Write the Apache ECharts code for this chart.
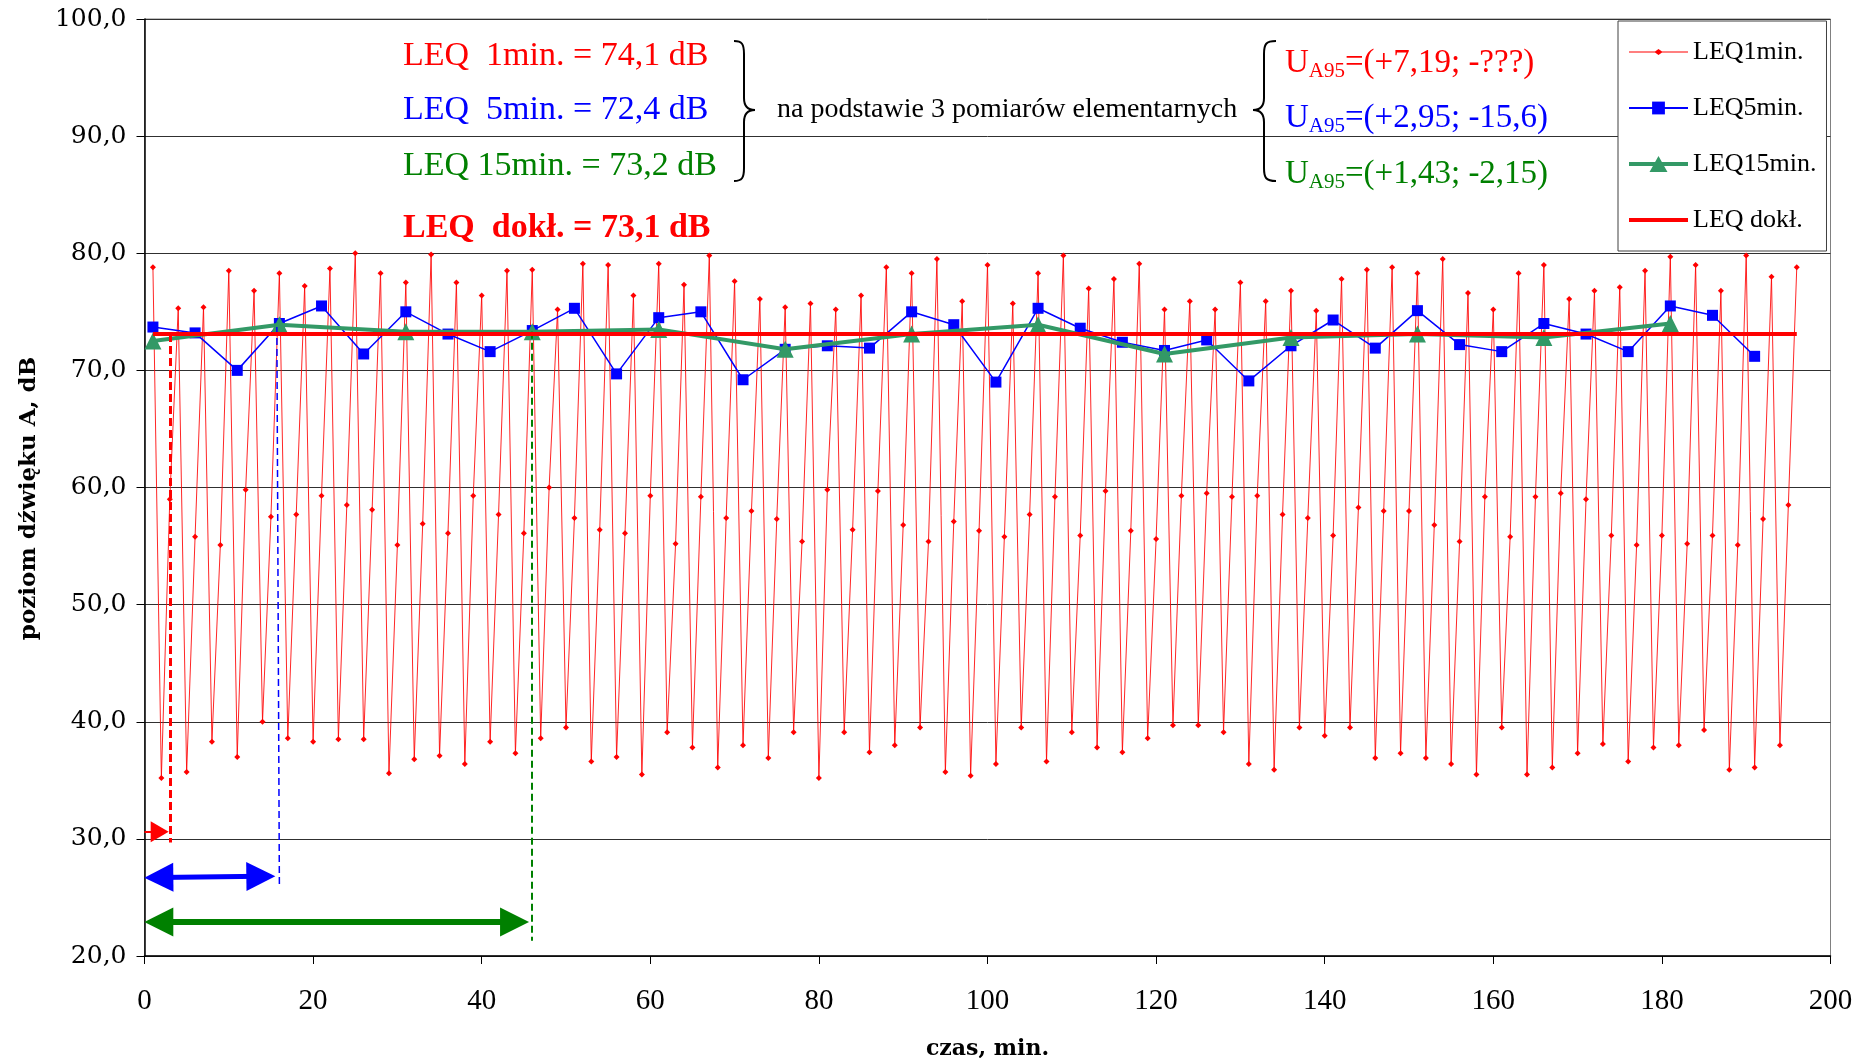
<!DOCTYPE html>
<html>
<head>
<meta charset="utf-8">
<title>LEQ</title>
<script src="https://cdn.jsdelivr.net/npm/echarts@6/dist/echarts.min.js"></script>
<style>
  html, body { margin: 0; padding: 0; background: #fff; }
  #chart { width: 1872px; height: 1058px; }
</style>
</head>
<body>
<div id="chart"></div>
<script>
// LEQ 1 min, one value per minute, minutes 1..196
const LEQ_1MIN = [
  78.8, 35.2, 59.0, 75.3, 35.7, 55.8, 75.4, 38.3, 55.1, 78.5, 37.0, 59.8, 76.8, 40.0, 57.5,
  78.3, 38.6, 57.7, 77.2, 38.3, 59.3, 78.7, 38.5, 58.5, 80.0, 38.5, 58.1, 78.3, 35.6, 55.1,
  77.5, 36.8, 56.9,
  79.9, 37.1, 56.1, 77.5, 36.4, 59.3, 76.4, 38.3, 57.7, 78.5, 37.3, 56.1, 78.6, 38.6, 60.0,
  75.2, 39.5, 57.4, 79.1, 36.6, 56.4, 79.0, 37.0, 56.1, 76.4, 35.5, 59.3, 79.1, 39.1, 55.2,
  77.3, 37.8, 59.2, 79.8,
  36.1, 57.4, 77.6, 38.0, 58.0, 76.1, 36.9, 57.3, 75.4, 39.1, 55.4, 75.7, 35.2, 59.8, 75.2,
  39.1, 56.4, 76.4, 37.4, 59.7, 78.8, 38.0, 56.8, 78.3, 39.5, 55.4, 79.5, 35.7, 57.1, 75.9,
  35.4, 56.3, 79.0,
  36.4, 55.8, 75.7, 39.5, 57.7, 78.3, 36.6, 59.2, 79.8, 39.1, 55.9, 77.0, 37.8, 59.7, 77.8,
  37.4, 56.3, 79.1, 38.6, 55.6, 75.2, 39.7, 59.3, 75.9, 39.7, 59.5, 75.2, 39.1, 59.2, 77.5,
  36.4, 59.3, 75.9,
  35.9, 57.7, 76.8, 39.5, 57.4, 75.1, 38.8, 55.9, 77.8, 39.5, 58.3, 78.6, 36.9, 58.0, 78.8,
  37.3, 58.0, 78.3, 36.9, 56.8, 79.5, 36.4, 55.4, 76.6, 35.5, 59.2, 75.2, 39.5, 55.8, 78.3,
  35.5, 59.2, 79.0,
  36.1, 59.5, 76.1, 37.3, 59.0, 76.8, 38.1, 55.9, 77.1, 36.6, 55.1, 78.5, 37.8, 55.9, 79.7,
  38.0, 55.2, 79.0, 39.3, 55.9, 76.8, 35.9, 55.1, 79.8, 36.1, 57.3, 78.0, 38.0, 58.5, 78.8
];

// LEQ 5 min, minutes 1, 6, 11 ... 191
const LEQ_5MIN = [
  73.7, 73.2, 70.0, 74.0, 75.5, 71.4, 75.0, 73.1, 71.6, 73.4, 75.3, 69.7, 74.5,
  75.0, 69.2, 71.8, 72.1, 71.9, 75.0, 73.9, 69.0, 75.3, 73.6, 72.4, 71.7, 72.6,
  69.1, 72.1, 74.3, 71.9, 75.1, 72.2, 71.6, 74.0, 73.1, 71.6, 75.5, 74.7, 71.2
];

// LEQ 15 min, minutes 1, 16, 31 ... 181
const LEQ_15MIN = [72.5, 73.9, 73.3, 73.3, 73.5, 71.8, 73.1, 73.9, 71.4, 72.8, 73.1, 72.8, 74.0];

const LEQ_DOKL = 73.1;
const DOKL_MINUTES = [1, 196];

const X_MIN = 0, X_MAX = 200, X_STEP = 20;
const Y_MIN = 20, Y_MAX = 100, Y_STEP = 10;

// hand-drawn helpers on the chart (data coordinates)
const RED_DASH = [[3, 73.1], [3, 29.7]];
const RED_ARROW = [[0, 30.6], [1.8, 30.6]];
const BLUE_DASH = [[15.7, 73.7], [16, 26.0]];
const BLUE_ARROW = [[1.7, 26.7], [13.8, 26.8]];
const GREEN_DASH = [[45.9, 73.3], [45.9, 21.3]];
const GREEN_ARROW = [[1.7, 22.9], [43.9, 22.9]];

const SERIF = '"Liberation Serif", "Times New Roman", serif';
const WIDE_SERIF = '"DejaVu Serif", serif';

// legend icons drawn in a 59 x 16 box
const ICON_1MIN = 'path://M0,0 L0.5,0 M0,7.5 L26,7.5 L29.5,5 L33,7.5 L59,7.5 L59,8.5 L33,8.5 L29.5,11 L26,8.5 L0,8.5 Z M0,16 L0.5,16';
const ICON_15MIN = 'path://M0,6 L26.1,6 L29.5,0 L32.9,6 L59,6 L59,10 L35.1,10 L38.5,16 L20.5,16 L23.9,10 L0,10 Z';
const ICON_DOKL = 'path://M0,0 L0.5,0 M0,6 L59,6 L59,10 L0,10 Z M0,16 L0.5,16';

const commaFmt = v => v.toFixed(1).replace('.', ',');

function seg(points, style, endSymbols, size) {
  return [
    { coord: points[0], symbol: endSymbols[0], symbolSize: size, lineStyle: style },
    { coord: points[1], symbol: endSymbols[1], symbolSize: size }
  ];
}

// curly brace made of curves; tip points toward xTip
function brace(xEnd, xBody, xTip, yTop, yMid, yBot) {
  const st = { stroke: '#000', lineWidth: 2, fill: null };
  const d = xEnd < xBody ? 1 : -1;
  const bz = (x1, y1, cx1, cy1, cx2, cy2, x2, y2) => ({
    type: 'bezierCurve', z: 10, silent: true,
    shape: { x1, y1, cpx1: cx1, cpy1: cy1, cpx2: cx2, cpy2: cy2, x2, y2 }, style: st
  });
  const ln = (x1, y1, x2, y2) => ({ type: 'line', z: 10, silent: true, shape: { x1, y1, x2, y2 }, style: st });
  return [
    bz(xEnd, yTop, xBody - 2 * d, yTop, xBody, yTop + 3, xBody, yTop + 13),
    ln(xBody, yTop + 13, xBody, yMid - 12),
    bz(xBody, yMid - 12, xBody, yMid - 4, xBody + 4 * d, yMid, xTip, yMid),
    bz(xTip, yMid, xBody + 4 * d, yMid, xBody, yMid + 4, xBody, yMid + 12),
    ln(xBody, yMid + 12, xBody, yBot - 13),
    bz(xBody, yBot - 13, xBody, yBot - 3, xBody - 2 * d, yBot, xEnd, yBot)
  ];
}

function uText(y, body, color) {
  return {
    type: 'text', x: 1285, y, z: 10,
    style: {
      text: '{u|U}{s|A95}{u|' + body + '}', fill: color, verticalAlign: 'middle',
      rich: {
        u: { fontFamily: SERIF, fontSize: 33, lineHeight: 38, fill: color },
        s: { fontFamily: SERIF, fontSize: 21, lineHeight: 21, verticalAlign: 'bottom', fill: color }
      }
    }
  };
}

function leqText(y, text, color, bold) {
  return {
    type: 'text', x: 403, y, z: 10,
    style: { text, fontFamily: SERIF, fontSize: 34, fontWeight: bold ? 'bold' : 'normal', fill: color, verticalAlign: 'middle' }
  };
}

const chart = echarts.init(document.getElementById('chart'), null, { renderer: 'canvas' });

chart.setOption({
  animation: false,
  backgroundColor: '#fff',
  grid: {
    left: 144.5, right: 41.5, top: 19, bottom: 102,
    show: true, borderColor: '#808080', borderWidth: 1,
    outerBoundsMode: 'none'
  },
  legend: {
    orient: 'vertical',
    left: 1618, top: 21,
    padding: [18, 10, 18, 10],
    itemWidth: 59, itemHeight: 16, itemGap: 30,
    borderColor: '#404040', borderWidth: 1,
    backgroundColor: '#fff',
    textStyle: { fontFamily: SERIF, fontSize: 26, color: '#000' },
    data: [
      { name: 'LEQ1min.', icon: ICON_1MIN },
      'LEQ5min.',
      { name: 'LEQ15min.', icon: ICON_15MIN },
      { name: 'LEQ dokł.', icon: ICON_DOKL }
    ]
  },
  xAxis: {
    type: 'value', min: X_MIN, max: X_MAX, interval: X_STEP,
    name: 'czas, min.', nameLocation: 'middle', nameGap: 82,
    nameTextStyle: { fontFamily: WIDE_SERIF, fontWeight: 'bold', fontSize: 22, color: '#000' },
    axisLine: { lineStyle: { color: '#000', width: 1.5 } },
    axisTick: { show: true, length: 8, lineStyle: { color: '#000' } },
    axisLabel: { fontFamily: SERIF, fontSize: 29, color: '#000', margin: 31 },
    splitLine: { show: false }
  },
  yAxis: {
    type: 'value', min: Y_MIN, max: Y_MAX, interval: Y_STEP,
    name: 'poziom dźwięku A, dB', nameLocation: 'middle', nameRotate: 90, nameGap: 104,
    nameTextStyle: { fontFamily: WIDE_SERIF, fontWeight: 'bold', fontSize: 23, color: '#000', padding: [0, 22, 0, 0] },
    axisLine: { show: true, lineStyle: { color: '#000', width: 1.5 } },
    axisTick: { show: true, length: 8, lineStyle: { color: '#000' } },
    axisLabel: { fontFamily: WIDE_SERIF, fontSize: 25, color: '#000', margin: 18, formatter: commaFmt },
    splitLine: { show: true, lineStyle: { color: '#303030', width: 1 } }
  },
  series: [
    {
      name: 'LEQ1min.', type: 'line', z: 2,
      data: LEQ_1MIN.map((v, i) => [i + 1, v]),
      symbol: 'diamond', symbolSize: 6,
      itemStyle: { color: '#ff0000' },
      lineStyle: { color: 'rgba(255,0,0,0.85)', width: 1 }
    },
    {
      name: 'LEQ5min.', type: 'line', z: 3,
      data: LEQ_5MIN.map((v, i) => [1 + i * 5, v]),
      symbol: 'rect', symbolSize: 11,
      itemStyle: { color: '#0000ff' },
      lineStyle: { color: '#0000ff', width: 1.5 },
      markLine: {
        silent: true, animation: false, label: { show: false },
        data: [
          seg(BLUE_DASH, { color: '#0000ff', width: 1.5, type: [7, 4] }, ['none', 'none'], 0),
          seg(BLUE_ARROW, { color: '#0000ff', width: 5, type: 'solid' }, ['triangle', 'triangle'], [29, 29])
        ]
      }
    },
    {
      name: 'LEQ15min.', type: 'line', z: 4,
      data: LEQ_15MIN.map((v, i) => [1 + i * 15, v]),
      symbol: 'triangle', symbolSize: 17,
      itemStyle: { color: '#339966' },
      lineStyle: { color: '#339966', width: 4 },
      markLine: {
        silent: true, animation: false, label: { show: false },
        data: [
          seg(GREEN_DASH, { color: '#008000', width: 2, type: [7, 4] }, ['none', 'none'], 0),
          seg(GREEN_ARROW, { color: '#008000', width: 6, type: 'solid' }, ['triangle', 'triangle'], [29, 29])
        ]
      }
    },
    {
      name: 'LEQ dokł.', type: 'line', z: 5,
      data: DOKL_MINUTES.map(m => [m, LEQ_DOKL]),
      symbol: 'none',
      itemStyle: { color: '#ff0000' },
      lineStyle: { color: '#ff0000', width: 4 },
      markLine: {
        silent: true, animation: false, label: { show: false },
        data: [
          seg(RED_DASH, { color: '#ff0000', width: 3, type: [8, 4] }, ['none', 'none'], 0),
          seg(RED_ARROW, { color: '#ff0000', width: 2, type: 'solid' }, ['none', 'triangle'], [21, 18])
        ]
      }
    }
  ],
  graphic: [
    leqText(56, 'LEQ  1min. = 74,1 dB', '#ff0000', false),
    leqText(110, 'LEQ  5min. = 72,4 dB', '#0000ff', false),
    leqText(166, 'LEQ 15min. = 73,2 dB', '#008000', false),
    leqText(228, 'LEQ  dokł. = 73,1 dB', '#ff0000', true),
    ...brace(734, 744, 755, 41, 110, 181),
    { type: 'text', x: 777, y: 110, z: 10, style: { text: 'na podstawie 3 pomiarów elementarnych', fontFamily: SERIF, fontSize: 28, fill: '#000', verticalAlign: 'middle' } },
    ...brace(1276, 1264, 1253, 41, 110, 181),
    uText(63, '=(+7,19; -???)', '#ff0000'),
    uText(118, '=(+2,95; -15,6)', '#0000ff'),
    uText(174, '=(+1,43; -2,15)', '#008000')
  ]
});
</script>
</body>
</html>
